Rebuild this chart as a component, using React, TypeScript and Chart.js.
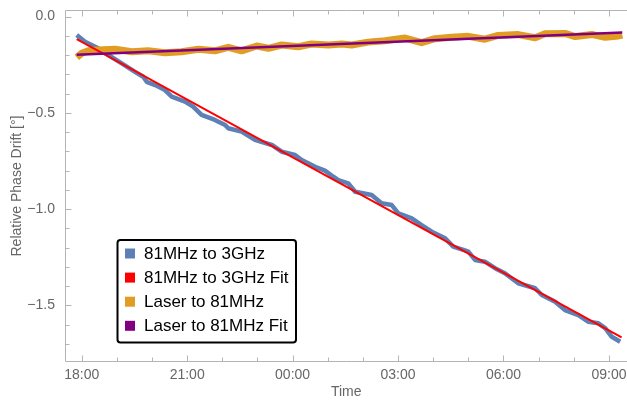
import React, { useEffect, useRef } from "react";
import { Chart, registerables } from "chart.js";

Chart.register(...registerables);

// Time in hours since midnight of day 1 (24 = 00:00 next day)
const blueT = [17.858, 18.094, 18.47, 18.757, 19.138, 19.516, 19.75, 19.85, 20.09, 20.37, 20.56, 20.94, 21.17, 21.41, 21.79, 22.08, 22.17, 22.55, 22.93, 23.41, 23.69, 24.07, 24.26, 24.64, 24.92, 25.16, 25.3, 25.58, 25.78, 26.25, 26.53, 26.82, 27.01, 27.39, 27.67, 27.96, 28.34, 28.57, 28.86, 29.0, 29.19, 29.47, 29.76, 30.04, 30.42, 30.9, 31.09, 31.47, 31.75, 32.13, 32.41, 32.7, 32.9, 33.08, 33.32];
const blueV = [-0.096, -0.131, -0.165, -0.2, -0.243, -0.287, -0.313, -0.339, -0.356, -0.382, -0.416, -0.442, -0.468, -0.511, -0.537, -0.563, -0.58, -0.598, -0.641, -0.667, -0.702, -0.719, -0.745, -0.78, -0.8, -0.832, -0.849, -0.866, -0.91, -0.927, -0.97, -0.979, -1.022, -1.048, -1.083, -1.117, -1.152, -1.195, -1.212, -1.221, -1.264, -1.273, -1.307, -1.333, -1.385, -1.411, -1.446, -1.481, -1.524, -1.55, -1.585, -1.593, -1.619, -1.663, -1.689];

const orangeT = [17.86, 18.0, 18.19, 18.47, 18.95, 19.43, 19.89, 20.37, 20.84, 21.32, 21.79, 22.17, 22.55, 22.98, 23.31, 23.69, 24.16, 24.54, 25.02, 25.4, 25.68, 26.15, 26.63, 27.2, 27.67, 28.05, 28.53, 29.0, 29.47, 29.85, 30.42, 30.9, 31.18, 31.75, 32.04, 32.51, 32.89, 33.27, 33.38];
const orangeV = [-0.212, -0.191, -0.178, -0.174, -0.17, -0.183, -0.178, -0.188, -0.183, -0.17, -0.178, -0.16, -0.178, -0.153, -0.165, -0.148, -0.157, -0.143, -0.148, -0.143, -0.148, -0.133, -0.126, -0.112, -0.136, -0.115, -0.108, -0.103, -0.118, -0.098, -0.094, -0.11, -0.09, -0.088, -0.104, -0.093, -0.108, -0.101, -0.096];

const redT = [17.858, 33.36];
const redV = [-0.117, -1.666];

const purpleT = [17.858, 33.38];
const purpleV = [-0.199, -0.083];

const xTicks = [18, 21, 24, 27, 30, 33];
const yTicks = [0, -0.5, -1, -1.5];

const seriesNames = ["81MHz to 3GHz", "81MHz to 3GHz Fit", "Laser to 81MHz", "Laser to 81MHz Fit"];
const seriesColors = ["#5E81B5", "#FF0000", "#E19C24", "#800080"];

const FONT = '"Liberation Sans", Arial, sans-serif';

function fmtTime(v: number): string {
  const h = ((Math.round(v) % 24) + 24) % 24;
  return (h < 10 ? "0" : "") + h + ":00";
}
function fmtY(v: number): string {
  if (Math.abs(v) < 1e-9) return "0.0";
  return (v < 0 ? "\u2212" : "") + Math.abs(v).toFixed(1);
}

export default function App() {
  const ref = useRef<HTMLCanvasElement>(null);

  useEffect(() => {
    const canvas = ref.current;
    if (!canvas) return;
    const toXY = (t: number[], v: number[]) => t.map((x, i) => ({ x, y: v[i] }));

    const framePlugin = {
      id: "frame",
      beforeDatasetsDraw(chart: any) {
        const { ctx, chartArea: a, scales } = chart;
        const x = scales.x;
        const y = scales.y;
        ctx.save();
        ctx.strokeStyle = "#b4b4b4";
        ctx.lineWidth = 1;
        ctx.beginPath();
        ctx.moveTo(a.left, a.top);
        ctx.lineTo(a.left, a.bottom);
        ctx.lineTo(a.right, a.bottom);
        ctx.moveTo(a.left, a.top);
        ctx.lineTo(a.right, a.top);
        for (let h = 18; h <= 33; h++) {
          const px = Math.round(x.getPixelForValue(h)) + 0.5;
          const len = h % 3 === 0 ? 6 : 4;
          ctx.moveTo(px, a.bottom);
          ctx.lineTo(px, a.bottom - len);
          ctx.moveTo(px, a.top);
          ctx.lineTo(px, a.top + len);
        }
        for (let k = 0; k <= 17; k++) {
          const py = Math.round(y.getPixelForValue(-k / 10)) + 0.5;
          const len = k % 5 === 0 ? 6 : 4;
          ctx.moveTo(a.left, py);
          ctx.lineTo(a.left + len, py);
        }
        ctx.stroke();
        ctx.restore();
      },
      afterDraw(chart: any) {
        const { ctx, chartArea: a } = chart;
        const bx = a.left + 52;
        const by = a.top + 229.5;
        const bw = 178.5;
        const bh = 102.5;
        ctx.save();
        ctx.fillStyle = "#ffffff";
        ctx.strokeStyle = "#000000";
        ctx.lineWidth = 2;
        ctx.beginPath();
        (ctx as any).roundRect(bx, by, bw, bh, 3);
        ctx.fill();
        ctx.stroke();
        ctx.font = "17px " + FONT;
        ctx.textBaseline = "middle";
        ctx.textAlign = "left";
        for (let i = 0; i < seriesNames.length; i++) {
          const ry = by + 13.5 + i * 24.1;
          ctx.fillStyle = seriesColors[i];
          ctx.fillRect(bx + 7.5, ry - 5, 10, 10);
          ctx.fillStyle = "#000000";
          ctx.fillText(seriesNames[i], bx + 26.5, ry + 0.5);
        }
        ctx.restore();
      },
    };

    const chart = new Chart(canvas, {
      type: "line",
      data: {
        datasets: [
          {
            label: seriesNames[0],
            data: toXY(blueT, blueV),
            borderColor: seriesColors[0],
            borderWidth: 4.5,
            pointRadius: 0,
            tension: 0,
            borderJoinStyle: "round",
            order: 4,
          },
          {
            label: seriesNames[2],
            data: toXY(orangeT, orangeV),
            borderColor: seriesColors[2],
            borderWidth: 7,
            pointRadius: 0,
            tension: 0,
            borderJoinStyle: "round",
            order: 3,
          },
          {
            label: seriesNames[1],
            data: toXY(redT, redV),
            borderColor: seriesColors[1],
            borderWidth: 2,
            pointRadius: 0,
            tension: 0,
            order: 2,
          },
          {
            label: seriesNames[3],
            data: toXY(purpleT, purpleV),
            borderColor: seriesColors[3],
            borderWidth: 2.5,
            pointRadius: 0,
            tension: 0,
            order: 1,
          },
        ],
      } as any,
      options: {
        animation: false,
        responsive: false,
        devicePixelRatio: 1,
        layout: { padding: { left: 0, right: 0, top: 10.5, bottom: 0 } },
        plugins: { legend: { display: false }, tooltip: { enabled: false } },
        scales: {
          x: {
            type: "linear",
            min: 17.539,
            max: 33.514,
            grid: { display: false, drawTicks: false },
            border: { display: false },
            afterBuildTicks: (s: any) => {
              s.ticks = xTicks.map((v) => ({ value: v }));
            },
            afterFit: (s: any) => {
              s.height = 39.5;
              s.paddingLeft = 0;
              s.paddingRight = 0;
              s.paddingTop = 0;
              s.paddingBottom = 0;
            },
            ticks: {
              padding: 5,
              color: "#666666",
              autoSkip: false,
              maxRotation: 0,
              font: { family: FONT, size: 14 },
              callback: (v: any) => fmtTime(Number(v)),
            },
            title: {
              display: true,
              text: "Time",
              color: "#666666",
              font: { family: FONT, size: 14 },
              padding: { top: 0, bottom: 0 },
            },
          },
          y: {
            type: "linear",
            min: -1.7913,
            max: 0.0312,
            grid: { display: false, drawTicks: false },
            border: { display: false },
            afterBuildTicks: (s: any) => {
              s.ticks = yTicks.map((v) => ({ value: v }));
            },
            afterFit: (s: any) => {
              s.width = 65.5;
              s.paddingLeft = 0;
              s.paddingRight = 0;
              s.paddingTop = 0;
              s.paddingBottom = 0;
            },
            ticks: {
              padding: 10.5,
              color: "#666666",
              font: { family: FONT, size: 14 },
              callback: (v: any) => fmtY(Number(v)),
            },
            title: {
              display: true,
              text: "Relative Phase Drift [°]",
              color: "#666666",
              font: { family: FONT, size: 14 },
              padding: { top: 9, bottom: 0 },
            },
          },
        },
      } as any,
      plugins: [framePlugin],
    });

    return () => chart.destroy();
  }, []);

  return (
    <div style={{ position: "fixed", left: 0, top: 0, width: 627, height: 401, background: "#ffffff" }}>
      <canvas ref={ref} width={627} height={401} style={{ display: "block", width: 627, height: 401 }} />
    </div>
  );
}
